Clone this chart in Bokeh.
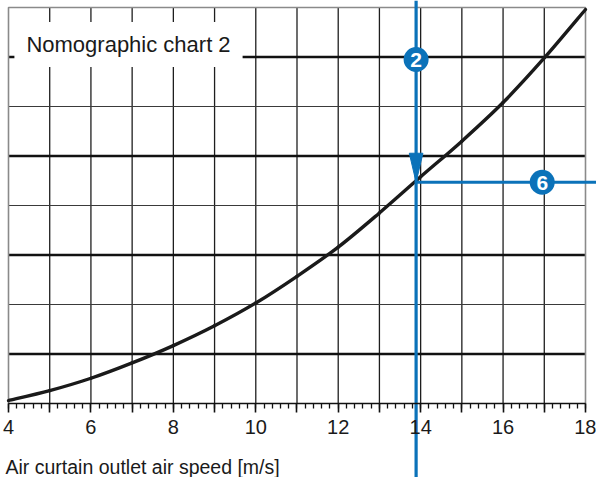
import numpy as np
from bokeh.plotting import figure
from bokeh.models import (LinearAxis, FixedTicker, Range1d, Label, ColumnDataSource)
from bokeh.core.properties import value
from bokeh.embed import file_html
from bokeh.resources import INLINE

# ---- data ----
speed = [4, 5, 6, 7, 8, 9, 10, 11, 12, 13, 14, 15, 16, 17, 18]
chart_value = [0.06, 0.26, 0.51, 0.82, 1.17, 1.57, 2.03, 2.57, 3.16, 3.85, 4.58, 5.30, 6.08, 6.98, 7.96]
x_ticks = list(range(4, 19))
x_tick_labels = {t: (str(t) if t % 2 == 0 else "") for t in x_ticks}
x_minor = [round(v, 1) for v in np.arange(4, 18.001, 0.2)]
y_levels = [0, 1, 2, 3, 4, 5, 6, 7, 8]
read_speed = 13.89      # blue reading line (step 2)
read_value = 4.47       # blue horizontal (step 6)
step_labels = ["2", "6"]
step_x = [read_speed, 16.95]
step_y = [6.95, read_value]

X0, X1 = 4, 18
Y0, Y1 = 0, 8
BLUE = "#0b72b9"
FONT = "Liberation Sans"

W, H = 596, 477
XS = 41.214   # px per x unit
YS = 49.5     # px per y unit
XR = (X0 - 8 / XS, X0 + (W - 8) / XS)
YR = (Y0 - (H - 403) / YS, Y1 + 7 / YS)

p = figure(width=W, height=H, output_backend="svg", toolbar_location=None,
           x_axis_type=None, y_axis_type=None,
           x_range=Range1d(*XR), y_range=Range1d(*YR),
           min_border=0, min_border_left=0, min_border_right=0,
           min_border_top=0, min_border_bottom=0)
p.outline_line_color = None
p.xgrid.visible = False
p.ygrid.visible = False
p.background_fill_color = "white"
p.border_fill_color = "white"

# grid lines
vx = [t for t in x_ticks if X0 < t < X1]
p.segment(x0=vx, y0=[Y0] * len(vx), x1=vx, y1=[Y1] * len(vx),
          line_color="#1e1e1e", line_width=1.3)
thick = [y for y in y_levels if Y0 < y < Y1 and y % 2 == 1]
thin = [y for y in y_levels if Y0 < y < Y1 and y % 2 == 0]
p.segment(x0=[X0] * len(thick), y0=thick, x1=[X1] * len(thick), y1=thick,
          line_color="#111111", line_width=2.4)
p.segment(x0=[X0] * len(thin), y0=thin, x1=[X1] * len(thin), y1=thin,
          line_color="#3a3a3a", line_width=1.2)
# frame border (left, top, right)
p.line(x=[X0, X0, X1, X1], y=[Y0, Y1, Y1, Y0], line_color="#8a8a8a", line_width=1.6)

# x axis
ax = LinearAxis(fixed_location=0, bounds=(X0, X1),
                ticker=FixedTicker(ticks=x_ticks, minor_ticks=x_minor))
ax.major_label_overrides = x_tick_labels
ax.axis_line_color = "#111111"
ax.axis_line_width = 1.6
ax.major_tick_in = 0
ax.major_tick_out = 9
ax.major_tick_line_width = 1.6
ax.major_tick_line_color = "#111111"
ax.minor_tick_in = 0
ax.minor_tick_out = 5
ax.minor_tick_line_width = 1.3
ax.minor_tick_line_color = "#111111"
ax.major_label_text_font = FONT
ax.major_label_text_font_size = "20px"
ax.major_label_text_color = "#1a1a1a"
ax.major_label_standoff = 7
p.add_layout(ax, "below")

# curve: smooth (Catmull-Rom) bezier pieces through every data point
px_ = [speed[0]] + speed + [speed[-1]]
py_ = [chart_value[0]] + chart_value + [chart_value[-1]]
bx0, by0, bx1, by1, c0x, c0y, c1x, c1y = ([] for _ in range(8))
for i in range(1, len(px_) - 2):
    bx0.append(px_[i]); by0.append(py_[i])
    bx1.append(px_[i + 1]); by1.append(py_[i + 1])
    c0x.append(px_[i] + (px_[i + 1] - px_[i - 1]) / 6)
    c0y.append(py_[i] + (py_[i + 1] - py_[i - 1]) / 6)
    c1x.append(px_[i + 1] - (px_[i + 2] - px_[i]) / 6)
    c1y.append(py_[i + 1] - (py_[i + 2] - py_[i]) / 6)
p.bezier(x0=bx0, y0=by0, x1=bx1, y1=by1, cx0=c0x, cy0=c0y, cx1=c1x, cy1=c1y,
         line_color="#1a1a1a", line_width=3.4, line_cap="round")

# blue reading lines
p.segment(x0=[read_speed], y0=[YR[0]], x1=[read_speed], y1=[YR[1]],
          line_color=BLUE, line_width=3.2)
p.segment(x0=[read_speed], y0=[read_value], x1=[XR[1]], y1=[read_value],
          line_color=BLUE, line_width=3.2)
# arrow head
hw = 6.8 / XS
hl = 29 / YS
p.patch(x=[read_speed - hw, read_speed + hw, read_speed],
        y=[read_value + hl, read_value + hl, read_value],
        fill_color=BLUE, line_color=BLUE, line_width=1)

# step markers
src = ColumnDataSource(dict(x=step_x, y=step_y, t=step_labels))
p.scatter(x="x", y="y", source=src, size=25, fill_color=BLUE, line_color=None)
p.text(x="x", y="y", text="t", source=src, text_color="white",
       text_font=value(FONT), text_font_style="bold", text_font_size="21px",
       text_align="center", text_baseline="middle", y_offset=1)

# chart title box
p.add_layout(Label(x=X0 + 120 / XS, y=(403 - 44) / YS, text="Nomographic chart 2",
                   text_font=FONT, text_font_size="22px", text_color="#1a1a1a",
                   text_align="center", text_baseline="middle",
                   background_fill_color="white", padding=(12, 10)))
# axis title
p.add_layout(Label(x=X0 - 3 / XS, y=(403 - 466) / YS, text="Air curtain outlet air speed [m/s]",
                   text_font=FONT, text_font_size="19.5px", text_color="#1a1a1a",
                   text_align="left", text_baseline="alphabetic"))

open("out.html", "w").write(file_html(p, INLINE))
